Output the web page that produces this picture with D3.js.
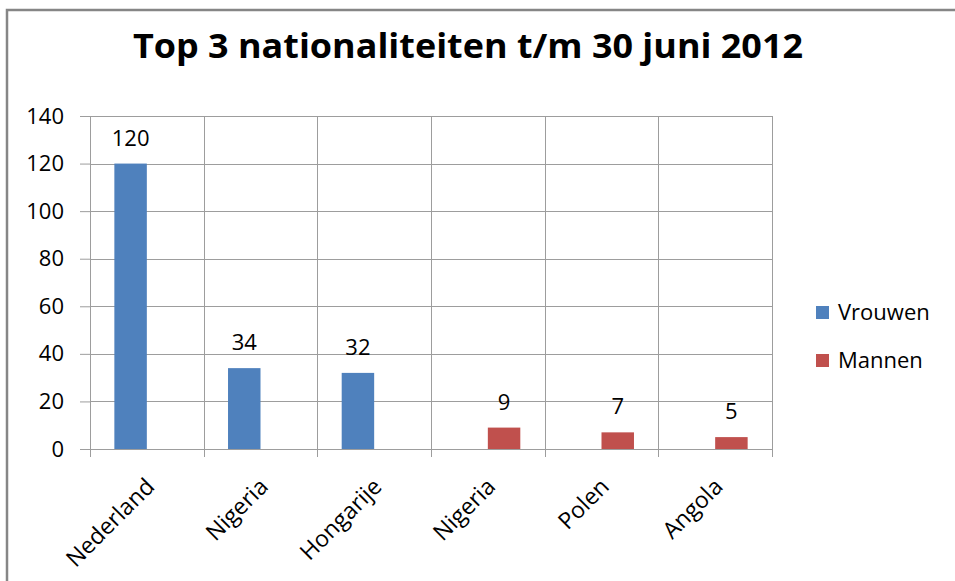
<!DOCTYPE html>
<html>
<head>
<meta charset="utf-8">
<script src="https://cdn.jsdelivr.net/npm/d3@7"></script>
<style>
  body { margin: 0; background: #fff; }
  text { font-family: "Open Sans", "DejaVu Sans", sans-serif; fill: #000; }
</style>
</head>
<body>
<script>
// chart data
const categories = ['Nederland', 'Nigeria', 'Hongarije', 'Nigeria ', 'Polen', 'Angola'];
const seriesNames = ['Vrouwen', 'Mannen'];
const vrouwen = [120, 34, 32, null, null, null];
const mannen = [null, null, null, 9, 7, 5];
const yTicks = [0, 20, 40, 60, 80, 100, 120, 140];
const colors = ['#4F81BD', '#C0504D'];

const width = 955, height = 581;
const plot = { left: 90, right: 772, top: 116, bottom: 449 };

const svg = d3.select('body').append('svg')
    .attr('width', width)
    .attr('height', height);

svg.append('rect').attr('width', width).attr('height', height).attr('fill', '#fff');

// outer frame (only top and left visible)
svg.append('path')
    .attr('d', `M7,${height} V10 H${width}`)
    .attr('fill', 'none')
    .attr('stroke', '#868686')
    .attr('stroke-width', 2.5);

svg.append('text')
    .attr('x', 468)
    .attr('y', 58)
    .attr('text-anchor', 'middle')
    .attr('textLength', 670)
    .attr('lengthAdjust', 'spacingAndGlyphs')
    .style('font-size', '34px')
    .attr('font-weight', 'bold')
    .text('Top 3 nationaliteiten t/m 30 juni 2012');

// scales
const x0 = d3.scaleBand()
    .domain(categories)
    .range([plot.left, plot.right])
    .paddingInner(0)
    .paddingOuter(0);

const x1 = d3.scaleBand()
    .domain(seriesNames)
    .range([0, x0.bandwidth()])
    .paddingInner(0)
    .paddingOuter(0.75);

const y = d3.scaleLinear()
    .domain([0, 140])
    .range([plot.bottom, plot.top]);

const gridColor = '#9d9d9d';

// y axis
const yAxis = svg.append('g')
    .attr('transform', `translate(${plot.left},0)`)
    .call(d3.axisLeft(y).tickValues(yTicks).tickSize(10).tickPadding(16));
yAxis.attr('font-size', 22).attr('font-family', null);
yAxis.select('.domain').attr('stroke', gridColor);
yAxis.selectAll('.tick line').attr('stroke', gridColor);
yAxis.selectAll('.tick text')
    .attr('font-size', 22)
    .style('font-size', '22px')
    .style('font-family', '"Open Sans", sans-serif');

// horizontal gridlines
svg.append('g')
    .selectAll('line')
    .data(yTicks)
    .join('line')
    .attr('x1', plot.left)
    .attr('x2', plot.right)
    .attr('y1', d => Math.round(y(d)) + 0.5)
    .attr('y2', d => Math.round(y(d)) + 0.5)
    .attr('stroke', gridColor);

// vertical gridlines at category boundaries
const bounds = categories.map(c => x0(c)).concat([plot.right]);
svg.append('g')
    .selectAll('line')
    .data(bounds)
    .join('line')
    .attr('x1', d => Math.round(d) + 0.5)
    .attr('x2', d => Math.round(d) + 0.5)
    .attr('y1', plot.top)
    .attr('y2', plot.bottom + 8)
    .attr('stroke', gridColor);

// bars
const rows = categories.map((c, i) => ({
    category: c,
    values: [
        { name: 'Vrouwen', value: vrouwen[i] },
        { name: 'Mannen', value: mannen[i] }
    ].filter(v => v.value != null)
}));

const group = svg.selectAll('.category')
    .data(rows)
    .join('g')
    .attr('class', 'category')
    .attr('transform', d => `translate(${x0(d.category)},0)`);

group.selectAll('rect')
    .data(d => d.values)
    .join('rect')
    .attr('x', d => x1(d.name))
    .attr('y', d => y(d.value))
    .attr('width', x1.bandwidth())
    .attr('height', d => y(0) - y(d.value))
    .attr('fill', d => colors[seriesNames.indexOf(d.name)]);

group.selectAll('.label')
    .data(d => d.values)
    .join('text')
    .attr('class', 'label')
    .attr('x', d => x1(d.name) + x1.bandwidth() / 2)
    .attr('y', d => y(d.value) - 18)
    .attr('text-anchor', 'middle')
    .style('font-size', '22px')
    .text(d => d.value);

// category labels, rotated
svg.append('g')
    .selectAll('text')
    .data(categories)
    .join('text')
    .attr('text-anchor', 'end')
    .style('font-size', '23px')
    .attr('transform', d => `translate(${x0(d) + x0.bandwidth() / 2 + 9},488) rotate(-45)`)
    .text(d => d.trim());

// legend
const legend = svg.append('g')
    .selectAll('g')
    .data(seriesNames)
    .join('g')
    .attr('transform', (d, i) => `translate(816,${306 + i * 48})`);

legend.append('rect')
    .attr('width', 13)
    .attr('height', 13)
    .attr('fill', (d, i) => colors[i]);

legend.append('text')
    .attr('x', 22)
    .attr('y', 14)
    .style('font-size', '22px')
    .text(d => d);
</script>
</body>
</html>
